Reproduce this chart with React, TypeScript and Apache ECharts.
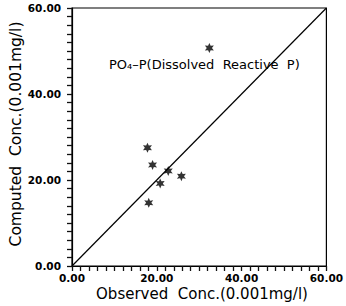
import React, { useEffect, useRef } from "react";
import * as echarts from "echarts";

const observed = [32.4, 17.8, 19.0, 22.7, 25.8, 20.8, 18.1];
const computed = [50.7, 27.5, 23.5, 22.1, 20.9, 19.2, 14.7];
const lineX = [0, 60];
const lineY = [0, 60];
const labelStep = 20;
const tickStep = 2;
const xTitle = "Observed  Conc.(0.001mg/l)";
const yTitle = "Computed  Conc.(0.001mg/l)";
const noteText = "PO₄–P(Dissolved  Reactive  P)";

const STAR =
  "path://M0 -1 L0.25 -0.43 L0.866 -0.5 L0.5 0 L0.866 0.5 L0.25 0.43 L0 1 L-0.25 0.43 L-0.866 0.5 L-0.5 0 L-0.866 -0.5 L-0.25 -0.43 Z";

export default function App() {
  const ref = useRef<HTMLDivElement>(null);
  useEffect(() => {
    if (!ref.current) return;
    const chart = echarts.init(ref.current, null, { renderer: "svg" });
    const font = "'DejaVu Sans', Verdana, sans-serif";
    const mk = (labelMargin: number) => ({
      type: "value",
      min: 0,
      max: 60,
      interval: tickStep,
      axisLine: { show: true, onZero: false, lineStyle: { color: "#000", width: 1.2 } },
      axisTick: { show: true, inside: false, length: 5, lineStyle: { color: "#111", width: 1.3 } },
      splitLine: { show: false },
      axisLabel: {
        color: "#000",
        fontFamily: font,
        fontWeight: "bold",
        fontSize: 10.5,
        margin: labelMargin,
        showMinLabel: true,
        showMaxLabel: true,
        formatter: (v: number) =>
          Math.abs(v / labelStep - Math.round(v / labelStep)) < 1e-6 ? v.toFixed(2) : "",
      },
    });
    chart.setOption({
      animation: false,
      backgroundColor: "#fff",
      grid: {
        left: 72,
        right: 15,
        top: 8,
        bottom: 40,
        show: true,
        borderColor: "#000",
        borderWidth: 1.2,
        containLabel: false,
      },
      xAxis: mk(6),
      yAxis: mk(11),
      series: [
        {
          type: "line",
          data: lineX.map((x, i) => [x, lineY[i]]),
          symbol: "none",
          lineStyle: { color: "#000", width: 1.2 },
        },
        {
          type: "scatter",
          data: observed.map((x, i) => [x, computed[i]]),
          symbol: STAR,
          symbolSize: [9, 10],
          itemStyle: { color: "#000" },
        },
      ],
      graphic: [
        {
          type: "text",
          x: 109,
          y: 64,
          style: {
            text: noteText,
            fill: "#000",
            font: `13px ${font}`,
            verticalAlign: "middle",
            align: "left",
          },
        },
        {
          type: "text",
          x: 202,
          y: 294,
          style: {
            text: xTitle,
            fill: "#000",
            font: `15px ${font}`,
            align: "center",
            verticalAlign: "middle",
          },
        },
        {
          type: "text",
          x: 16,
          y: 134,
          rotation: Math.PI / 2,
          style: {
            text: yTitle,
            fill: "#000",
            font: `15.5px ${font}`,
            align: "center",
            verticalAlign: "middle",
          },
        },
      ],
    });
    return () => chart.dispose();
  }, []);
  return (
    <div
      ref={ref}
      style={{ position: "fixed", left: 0, top: 0, width: 346, height: 306 }}
    />
  );
}
